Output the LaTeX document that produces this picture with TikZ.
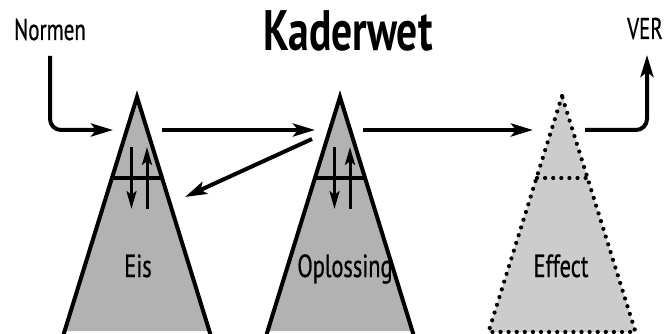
\documentclass[tikz,border=0pt]{standalone}
\usepackage{fontspec}
\setmainfont{PT Sans}[FakeStretch=0.70,FakeBold=0.6]
\newfontfamily\titlefont{PT Sans Bold}[FakeStretch=0.73]
\usetikzlibrary{arrows.meta}
\definecolor{bergdark}{gray}{0.70}
\definecolor{berglight}{gray}{0.80}
\begin{document}
\begin{tikzpicture}[x=1pt,y=-1pt,
  flow/.style={line width=4pt,rounded corners=11pt,
    -{Stealth[length=22pt,width=13pt,inset=5pt]}},
  mixarrow/.style={line width=3pt,-{Stealth[length=18pt,width=10pt,inset=4pt]}},
  bergedge/.style={line width=4pt,line join=miter},
  dots/.style={line width=4.2pt,line cap=round,dash pattern=on 0pt off 8.1pt},
  lbl/.style={anchor=base,inner sep=0pt,font=\fontsize{32}{32}\selectfont},
  sidelbl/.style={anchor=base,inner sep=0pt,font=\fontsize{30}{30}\selectfont}]
\useasboundingbox (0,0) rectangle (665,334);
\clip (0,0) rectangle (665,334);

% solid iceberg: apex x, apex y = 97, slope 0.309
\foreach \ax/\nm in {137/eisb,340/oplb}{
  \fill[bergdark] (\ax,97) -- (\ax-72.4,331) -- (\ax+72.4,331) -- cycle;
  \draw[bergedge] (\ax-73.6,335) -- (\ax,97) -- (\ax+73.6,335);
  \draw[bergedge] (\ax-25.6,178) -- (\ax+25.6,178);
  \coordinate (\nm-dtop) at (\ax-5.5,147);
  \coordinate (\nm-dbot) at (\ax-5.5,209);
  \coordinate (\nm-ubot) at (\ax+10,209);
  \coordinate (\nm-utop) at (\ax+10,147);
  \draw[mixarrow] (\nm-dtop) -- (\nm-dbot);
  \draw[mixarrow] (\nm-ubot) -- (\nm-utop);
}

% dotted iceberg
\fill[berglight] (562,96) -- (488.5,332) -- (635.5,332) -- cycle;
\draw[dots] (562,96) -- (488.5,332) -- (635.5,332) -- cycle;
\draw[dots] (537,178) -- (587,178);

% labels
\node[font=\titlefont\fontsize{57}{57}\selectfont,anchor=base,inner sep=0pt] (title) at (348,51) {Kaderwet};
\node[sidelbl] (normen) at (50,40) {Normen};
\node[sidelbl] (ver) at (645,39) {VER};
\node[lbl] (eis) at (138,277) {Eis};
\node[lbl] (opl) at (345,277) {Oplossing};
\node[lbl] (eff) at (561,277) {Effect};

% connectors
\coordinate (n0) at (50,56);
\coordinate (n1) at (113,130);
\coordinate (a0) at (162,130);
\coordinate (a1) at (315,130);
\coordinate (b0) at (363,130);
\coordinate (b1) at (533,130);
\coordinate (f0) at (312,139);
\coordinate (f1) at (185,197);
\coordinate (v0) at (585,130);
\coordinate (v1) at (647,55);
\draw[flow] (n0) |- (n1);
\draw[flow] (a0) -- (a1);
\draw[flow] (b0) -- (b1);
\draw[flow] (f0) -- (f1);
\draw[flow] (v0) -| (v1);
\end{tikzpicture}
\end{document}
